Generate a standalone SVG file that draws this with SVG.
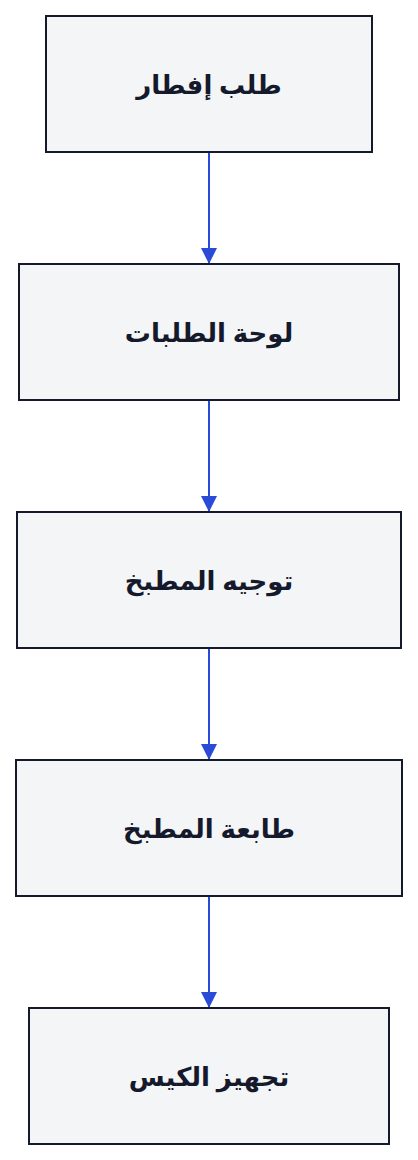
<svg xmlns="http://www.w3.org/2000/svg" width="418" height="1160" viewBox="0 0 418 1160">
<style>
.box{fill:#f4f5f7;stroke:#141a2b;stroke-width:2}
.lbl{font-family:"Noto Sans","DejaVu Sans",sans-serif;font-weight:bold;font-size:26px;fill:#141a2b;text-anchor:middle;dominant-baseline:central}
.edge{stroke:#2a4bd7;stroke-width:2;fill:none}
</style>
<defs>
<marker id="arr" viewBox="0 0 16 16" refX="16" refY="8" markerWidth="16" markerHeight="16" markerUnits="userSpaceOnUse" orient="auto">
<path d="M0,0 L16,8 L0,16 Z" fill="#2a4bd7"/>
</marker>
</defs>
<rect width="418" height="1160" fill="#ffffff"/>
<g id="connectors">
<line class="edge" x1="209" y1="152" x2="209" y2="264" marker-end="url(#arr)"/>
<line class="edge" x1="209" y1="400" x2="209" y2="512" marker-end="url(#arr)"/>
<line class="edge" x1="209" y1="648" x2="209" y2="760" marker-end="url(#arr)"/>
<line class="edge" x1="209" y1="896" x2="209" y2="1008" marker-end="url(#arr)"/>
</g>
<g id="n1"><rect class="box" x="46" y="16" width="326" height="136"/><text class="lbl" x="209" y="84" direction="rtl">طلب إفطار</text></g>
<g id="n2"><rect class="box" x="19" y="264" width="380" height="136"/><text class="lbl" x="209" y="332" direction="rtl">لوحة الطلبات</text></g>
<g id="n3"><rect class="box" x="17" y="512" width="384" height="136"/><text class="lbl" x="209" y="580" direction="rtl">توجيه المطبخ</text></g>
<g id="n4"><rect class="box" x="16" y="760" width="386" height="136"/><text class="lbl" x="209" y="828" direction="rtl">طابعة المطبخ</text></g>
<g id="n5"><rect class="box" x="29" y="1008" width="360" height="136"/><text class="lbl" x="209" y="1076" direction="rtl">تجهيز الكيس</text></g>
</svg>
